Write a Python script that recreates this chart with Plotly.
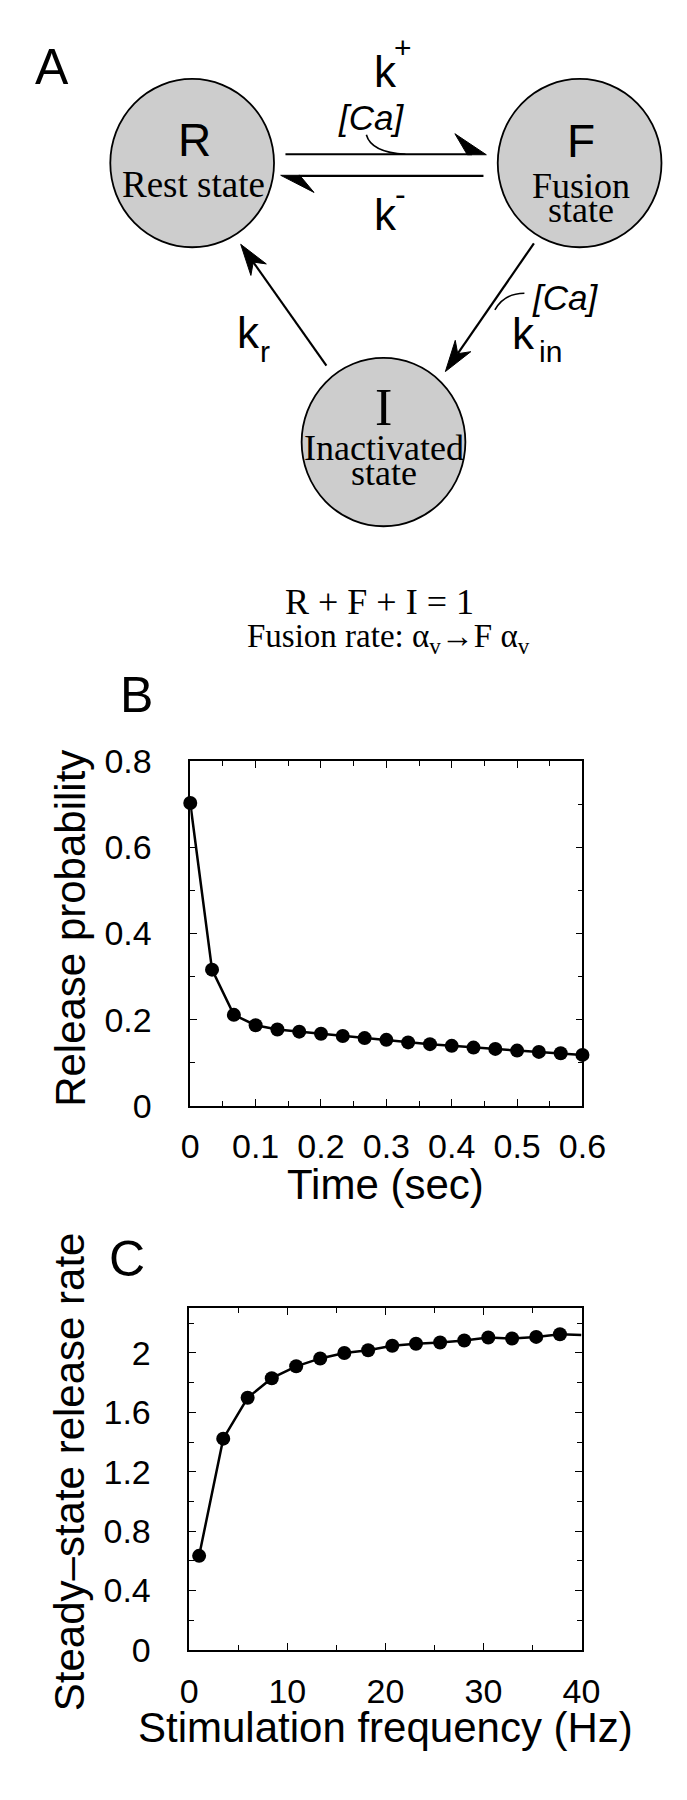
import plotly.graph_objects as go

# ---------------- data ----------------
time_s = [0.0, 0.0333, 0.0667, 0.1, 0.1333, 0.1667, 0.2, 0.2333, 0.2667, 0.3,
          0.3333, 0.3667, 0.4, 0.4333, 0.4667, 0.5, 0.5333, 0.5667, 0.6]
release_prob = [0.703, 0.316, 0.211, 0.187, 0.177, 0.172, 0.167, 0.162, 0.157, 0.153,
                0.147, 0.143, 0.139, 0.135, 0.132, 0.128, 0.125, 0.122, 0.118]

stim_freq = [1.0, 3.46, 5.95, 8.41, 10.9, 13.35, 15.81, 18.24, 20.7, 23.12,
             25.58, 28.04, 30.49, 32.92, 35.38, 37.8]
ss_rate = [0.634, 1.423, 1.698, 1.830, 1.910, 1.963, 2.000, 2.018, 2.048, 2.062,
           2.070, 2.084, 2.104, 2.097, 2.108, 2.126]
freq_tail = 40.0
rate_tail = 2.121

b_xticks = [0, 0.1, 0.2, 0.3, 0.4, 0.5, 0.6]
b_xlabels = ["0", "0.1", "0.2", "0.3", "0.4", "0.5", "0.6"]
b_yticks = [0, 0.2, 0.4, 0.6, 0.8]
b_ylabels = ["0", "0.2", "0.4", "0.6", "0.8"]
c_xticks = [0, 10, 20, 30, 40]
c_xlabels = ["0", "10", "20", "30", "40"]
c_yticks = [0, 0.4, 0.8, 1.2, 1.6, 2.0]
c_ylabels = ["0", "0.4", "0.8", "1.2", "1.6", "2"]

W, H = 687, 1800
SANS = "Liberation Sans, Arial, Helvetica, sans-serif"
SERIF = "Liberation Serif, Times New Roman, serif"


def px(x):
    return x / W


def py(y):
    return 1 - y / H


fig = go.Figure()

fig.add_trace(go.Scatter(x=time_s, y=release_prob, mode="lines+markers",
                         line=dict(color="black", width=2.5),
                         marker=dict(color="black", size=14),
                         cliponaxis=False, xaxis="x", yaxis="y", showlegend=False))
fig.add_trace(go.Scatter(x=stim_freq + [freq_tail], y=ss_rate + [rate_tail], mode="lines",
                         line=dict(color="black", width=2.5),
                         cliponaxis=False, xaxis="x2", yaxis="y2", showlegend=False))
fig.add_trace(go.Scatter(x=stim_freq, y=ss_rate, mode="markers",
                         marker=dict(color="black", size=14),
                         cliponaxis=False, xaxis="x2", yaxis="y2", showlegend=False))

axis_common = dict(showline=True, linecolor="black", linewidth=1.5, mirror="allticks",
                   ticks="inside", ticklen=7, tickwidth=1.3, tickcolor="black",
                   showgrid=False, zeroline=False, fixedrange=True,
                   tickfont=dict(family=SANS, size=34, color="black"))

fig.update_layout(
    width=W, height=H, margin=dict(l=0, r=0, t=0, b=0),
    paper_bgcolor="white", plot_bgcolor="white",
    xaxis=dict(domain=[182 / W, 594 / W], range=[0, 0.6], anchor="y",
               tickvals=b_xticks, ticktext=b_xlabels, ticklabelstandoff=10,
               minor=dict(ticks="inside", ticklen=5, dtick=0.05, tickcolor="black", tick0=0),
               **axis_common),
    yaxis=dict(domain=[1 - 1102 / H, 1 - 750 / H], range=[0, 0.8], anchor="x",
               tickvals=b_yticks, ticktext=b_ylabels, ticklabelstandoff=30,
               minor=dict(ticks="inside", ticklen=5, dtick=0.1, tickcolor="black", tick0=0),
               **axis_common),
    xaxis2=dict(domain=[181 / W, 593 / W], range=[0, 40], anchor="y2",
                tickvals=c_xticks, ticktext=c_xlabels, ticklabelstandoff=10,
                minor=dict(ticks="inside", ticklen=5, dtick=5, tickcolor="black", tick0=0),
                **axis_common),
    yaxis2=dict(domain=[1 - 1658 / H, 1 - 1309 / H], range=[0, 2.3], anchor="x2",
                tickvals=c_yticks, ticktext=c_ylabels, ticklabelstandoff=30,
                minor=dict(ticks="inside", ticklen=5, dtick=0.2, tickcolor="black", tick0=0),
                **axis_common),
)

shapes = []
annotations = []


def text(x, y, s, size, family=SANS, italic=False, angle=0):
    annotations.append(dict(
        x=px(x), y=py(y), xref="paper", yref="paper", text=s, showarrow=False,
        xanchor="center", yanchor="middle", textangle=angle,
        font=dict(family=family, size=size, color="black",
                  style="italic" if italic else "normal")))


# ---------------- diagram (panel A) ----------------
R_C = (184, 139)
F_C = (591, 139)
I_C = (385, 424)
RAD = 86
for cx, cy in (R_C, F_C, I_C):
    shapes.append(dict(type="circle", xref="paper", yref="paper",
                       x0=px(cx - RAD), x1=px(cx + RAD), y0=py(cy + RAD), y1=py(cy - RAD),
                       fillcolor="#cdcdcd", line=dict(color="black", width=1.8),
                       layer="below"))


def line(x0, y0, x1, y1, w=2.2):
    shapes.append(dict(type="line", xref="paper", yref="paper",
                       x0=px(x0), y0=py(y0), x1=px(x1), y1=py(y1),
                       line=dict(color="black", width=w)))


def poly(points):
    d = "M " + " L ".join(f"{px(x):.5f},{py(y):.5f}" for x, y in points) + " Z"
    shapes.append(dict(type="path", xref="paper", yref="paper", path=d,
                       fillcolor="black", line=dict(color="black", width=1)))


def curve(p0, c, p1):
    d = (f"M {px(p0[0]):.5f},{py(p0[1]):.5f} Q {px(c[0]):.5f},{py(c[1]):.5f} "
         f"{px(p1[0]):.5f},{py(p1[1]):.5f}")
    shapes.append(dict(type="path", xref="paper", yref="paper", path=d,
                       line=dict(color="black", width=1.6)))


def arrow(tail, tip, L=32, Wd=10, notch=0.7):
    dx, dy = tail[0] - tip[0], tail[1] - tip[1]
    n = (dx * dx + dy * dy) ** 0.5
    ux, uy = dx / n, dy / n
    nx, ny = -uy, ux
    b1 = (tip[0] + L * ux + Wd * nx, tip[1] + L * uy + Wd * ny)
    b2 = (tip[0] + L * ux - Wd * nx, tip[1] + L * uy - Wd * ny)
    nt = (tip[0] + notch * L * ux, tip[1] + notch * L * uy)
    line(tail[0], tail[1], nt[0], nt[1])
    poly([tip, b1, nt, b2])


# R <-> F arrows with half heads
line(282, 130, 478, 130)
poly([(493, 130.5), (460, 109), (473, 130.5)])
line(296, 152, 490, 152)
poly([(277, 151.5), (312, 169), (297, 151.5)])
# I -> R and F -> I
arrow((325, 346), (235, 222))
arrow((543, 221), (450, 352))
# [Ca] hooks
curve((367, 110), (372, 128), (408, 130))
curve((533, 272), (512, 272), (502, 289))

text(37, 41, "A", 50)
text(186, 115, "R", 46)
text(185, 161, "Rest state", 37, SERIF)
text(592, 116, "F", 46)
text(592, 162, "Fusion", 36, SERIF)
text(592, 187, "state", 36, SERIF)
text(385, 389, "I", 52, SERIF)
text(385, 430, "Inactivated", 36, SERIF)
text(385, 456, "state", 36, SERIF)

text(387, 45, "k", 44)
text(406, 21, "+", 30)
text(387, 192, "k", 44)
text(403, 171, "-", 32)
text(243, 312, "k", 44)
text(261, 331, "r", 30)
text(532, 313, "k", 44)
text(560, 332, "in", 30)
text(372, 92, "[Ca]", 35, SANS, italic=True)
text(576, 276, "[Ca]", 35, SANS, italic=True)

text(381, 587, "R + F + I = 1", 36, SERIF)
text(390, 625, "Fusion rate: α<sub>v</sub>→F α<sub>v</sub>", 33, SERIF)

# ---------------- panel labels and axis titles ----------------
text(126, 682, "B", 50)
text(116, 1259, "C", 50)
text(56, 921, "Release probability", 42, angle=-90)
text(387, 1182, "Time (sec)", 42)
text(55, 1476, "Steady\u2013state release rate", 42, angle=-90)
text(387, 1737, "Stimulation frequency (Hz)", 42)

fig.update_layout(shapes=shapes, annotations=annotations)
fig.write_html("out.html")
